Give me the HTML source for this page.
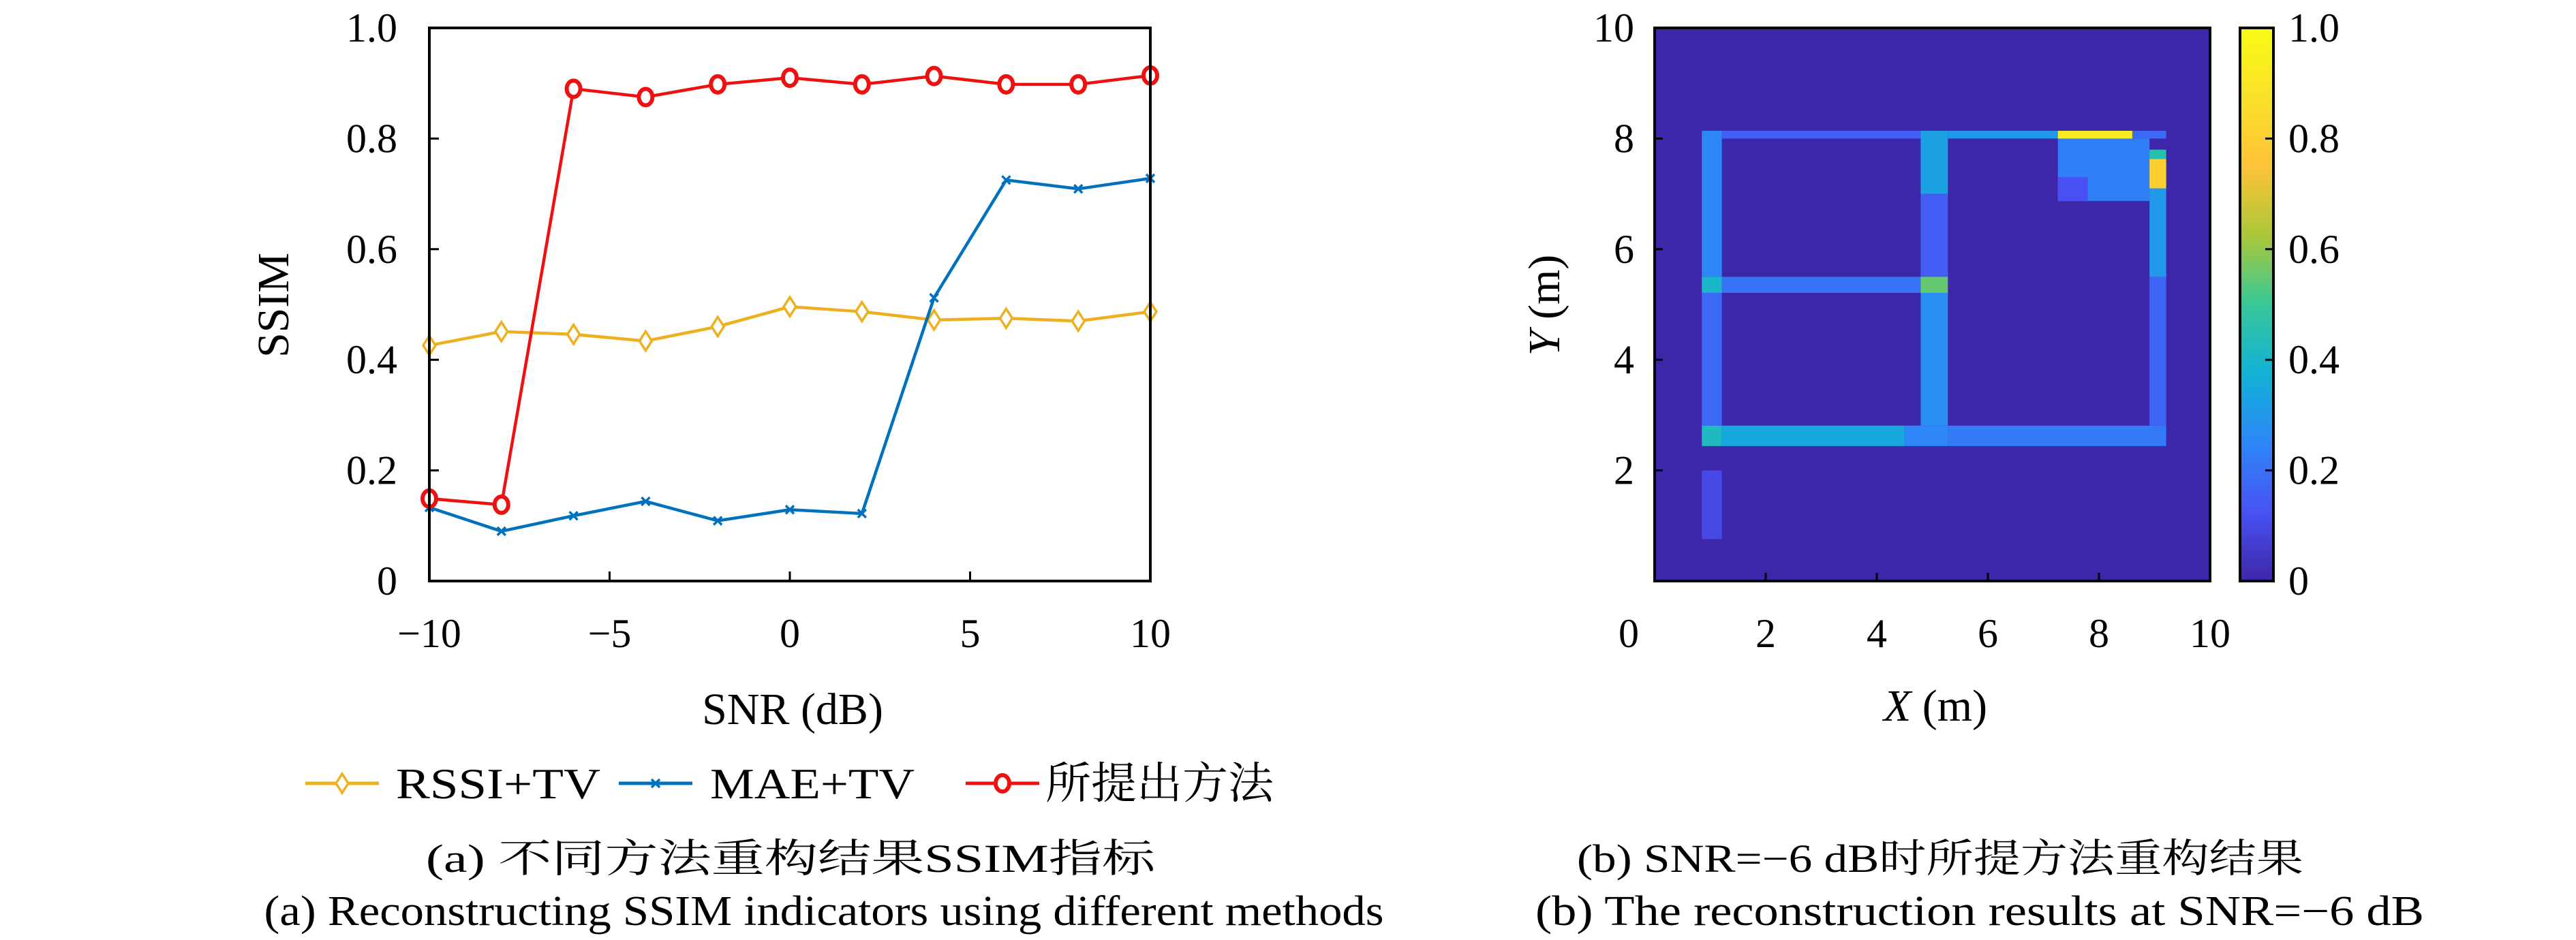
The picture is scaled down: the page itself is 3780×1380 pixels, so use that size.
<!DOCTYPE html>
<html><head><meta charset="utf-8"><style>
html,body{margin:0;padding:0;background:#fff;}
svg, svg text{font-family:"Liberation Serif","Noto Serif CJK SC",serif;}
svg{display:block;}
svg .cj{font-family:"Noto Serif CJK SC","Noto Sans CJK SC",serif;}
</style></head><body>
<svg id="fig" width="3780" height="1380" viewBox="0 0 3780 1380" xmlns="http://www.w3.org/2000/svg" font-family="Liberation Serif, serif">
<defs>
<linearGradient id="parula" x1="0" y1="1" x2="0" y2="0">
<stop offset="0" stop-color="#3e26a8"/><stop offset="0.125" stop-color="#4852f4"/>
<stop offset="0.25" stop-color="#2d87f7"/><stop offset="0.375" stop-color="#12b1d6"/>
<stop offset="0.5" stop-color="#37c897"/><stop offset="0.625" stop-color="#abc739"/>
<stop offset="0.75" stop-color="#fec338"/><stop offset="0.875" stop-color="#f9e129"/>
<stop offset="1" stop-color="#f9fb14"/>
</linearGradient>
</defs>
<g id="left"></g>
<g id="right"></g>
<text x="1160" y="1280" font-size="58" text-anchor="middle" textLength="1070" lengthAdjust="spacingAndGlyphs">(a) <tspan class="cj">不同方法重构结果</tspan>SSIM<tspan class="cj">指标</tspan></text>
<text x="1209" y="1358" font-size="62" text-anchor="middle" textLength="1643" lengthAdjust="spacingAndGlyphs">(a) Reconstructing SSIM indicators using different methods</text>
<text x="2847" y="1280" font-size="58" text-anchor="middle" textLength="1066" lengthAdjust="spacingAndGlyphs">(b) SNR=−6 dB<tspan class="cj">时所提方法重构结果</tspan></text>
<text x="2905" y="1358" font-size="62" text-anchor="middle" textLength="1304" lengthAdjust="spacingAndGlyphs">(b) The reconstruction results at SNR=−6 dB</text>
</svg>
<script>
const snr = [-10,-8,-6,-4,-2,0,2,4,6,8,10];
const rssiTV = [0.426,0.451,0.446,0.434,0.460,0.496,0.487,0.472,0.475,0.470,0.487];
const maeTV = [0.133,0.090,0.118,0.144,0.109,0.129,0.122,0.512,0.725,0.709,0.728];
const proposed = [0.149,0.138,0.890,0.875,0.898,0.910,0.898,0.913,0.898,0.898,0.914];
const xTicks = [-10,-5,0,5,10];
const xTickLabels = ["−10","−5","0","5","10"];
const yTicks = [0,0.2,0.4,0.6,0.8,1.0];
const yTickLabels = ["0","0.2","0.4","0.6","0.8","1.0"];
// heatmap regions: [x0,x1,y0,y1,value] in metres
const mapRegions = [
 [0.85,1.21,5.5,8.14,0.25],[0.85,1.21,2.81,5.21,0.18],
 [1.21,4.79,8.0,8.14,0.15],[4.79,5.28,7.0,8.14,0.33],[5.28,7.26,8.0,8.14,0.3],
 [4.79,5.28,5.5,7.0,0.15],[4.79,5.28,2.81,5.21,0.27],
 [0.85,1.21,5.21,5.5,0.4],[1.21,4.79,5.21,5.5,0.2],[4.79,5.28,5.21,5.5,0.55],
 [0.85,1.21,2.44,2.81,0.42],[1.21,4.5,2.44,2.81,0.35],[4.5,5.28,2.44,2.81,0.25],[5.28,9.21,2.44,2.81,0.22],
 [8.91,9.21,5.5,7.63,0.3],[8.91,9.21,2.81,5.5,0.17],
 [7.26,8.91,6.87,8.0,0.23],[7.26,7.8,6.87,7.3,0.12],[8.6,9.21,8.0,8.14,0.18],
 [8.91,9.21,7.63,7.8,0.45],[8.91,9.21,7.1,7.63,0.8],
 [7.26,8.6,8.0,8.14,0.93],
 [0.85,1.21,0.76,2.0,0.1]
];
const cbTicks = [0,0.2,0.4,0.6,0.8,1.0];
const cbTickLabels = ["0","0.2","0.4","0.6","0.8","1.0"];
const mapXTicks = [0,2,4,6,8,10];
const mapYTicks = [2,4,6,8,10];

const NS="http://www.w3.org/2000/svg";
function mk(parent,tag,attrs,txt){const e=document.createElementNS(NS,tag);for(const k in attrs)e.setAttribute(k,attrs[k]);if(txt!==undefined)e.textContent=txt;parent.appendChild(e);return e;}
function parula(v){const s=[[0,62,38,168],[0.125,72,82,244],[0.25,45,135,247],[0.375,18,177,214],[0.5,55,200,151],[0.625,171,199,57],[0.75,254,195,56],[0.875,249,225,41],[1,249,251,20]];
 for(let i=1;i<s.length;i++){if(v<=s[i][0]){const t=(v-s[i-1][0])/(s[i][0]-s[i-1][0]);const c=[1,2,3].map(j=>Math.round(s[i-1][j]+t*(s[i][j]-s[i-1][j])));return `rgb(${c})`;}}return "rgb(249,251,20)";}

const FS=60;
// left chart
const L=document.getElementById('left');
const lx0=630,lx1=1688,ly0=41,ly1=853;
const X=v=>lx0+(v+10)/20*(lx1-lx0);
const Y=v=>ly1-v*(ly1-ly0);
xTicks.forEach((t,i)=>{
 const tk=mk(L,'line',{x1:X(t),x2:X(t),y1:ly1,y2:ly1-14,stroke:'#000','stroke-width':3});
 
 
 const lb=mk(L,'text',{x:X(t),y:950,'font-size':FS,'text-anchor':'middle'},xTickLabels[i]);
 
 
});
yTicks.forEach((t,i)=>{
 const tk=mk(L,'line',{x1:lx0,x2:lx0+14,y1:Y(t),y2:Y(t),stroke:'#000','stroke-width':3});
 
 
 const lb=mk(L,'text',{x:583,y:Y(t)+20,'font-size':FS,'text-anchor':'end'},yTickLabels[i]);
 
 
});
function series(vals,color,marker,name){
 const g=mk(L,'g',{});
 
 
 mk(g,'polyline',{points:vals.map((v,i)=>X(snr[i])+','+Y(v)).join(' '),fill:'none',stroke:color,'stroke-width':4.5});
 vals.forEach((v,i)=>drawMarker(g,X(snr[i]),Y(v),color,marker));
}
function drawMarker(g,x,y,color,marker){
 let m;
 if(marker==='d') m=mk(g,'polygon',{points:`${x},${y-14} ${x+9},${y} ${x},${y+14} ${x-9},${y}`,fill:'#fff',stroke:color,'stroke-width':3.5});
 else if(marker==='x') m=mk(g,'path',{d:`M${x-6},${y-6}L${x+6},${y+6}M${x-6},${y+6}L${x+6},${y-6}`,stroke:color,'stroke-width':3.5});
 else m=mk(g,'ellipse',{cx:x,cy:y,rx:10,ry:12,fill:'#fff',stroke:color,'stroke-width':6});
 
 
}
series(rssiTV,'#edb120','d','series-rssi-tv');
series(maeTV,'#0072bd','x','series-mae-tv');
series(proposed,'#ee1111','o','series-proposed');
mk(L,'rect',{x:lx0,y:ly0,width:lx1-lx0,height:ly1-ly0,fill:'none',stroke:'#000','stroke-width':4});
const xt=mk(L,'text',{x:1163,y:1063,'font-size':66,'text-anchor':'middle'},'SNR (dB)');

const yt=mk(L,'text',{x:0,y:0,'font-size':66,'text-anchor':'middle',transform:'translate(423,448) rotate(-90)'},'SSIM');

// legend
const legend=[['#edb120','d','RSSI+TV',448,581,'legend-rssi-tv',300],['#0072bd','x','MAE+TV',908,1042,'legend-mae-tv',300],['#ee1111','o','所提出方法',1417,1534,'legend-proposed',335]];
legend.forEach(l=>{
 const g=mk(L,'g',{});
 
 
 mk(g,'line',{x1:l[3],x2:l[3]+108,y1:1150,y2:1150,stroke:l[0],'stroke-width':5});
 drawMarker(g,l[3]+54,1150,l[0],l[1]);
 const t=mk(g,'text',{x:l[4],y:1172,'font-size':64,textLength:l[6],lengthAdjust:'spacingAndGlyphs'},l[2]);
 if(l[1]==='o') t.setAttribute('class','cj');
});

// right chart
const R=document.getElementById('right');
const rx0=2428,rx1=3243,ry0=41,ry1=853;
const MX=v=>rx0+v/10*(rx1-rx0);
const MY=v=>ry1-v/10*(ry1-ry0);
const bg=mk(R,'rect',{x:rx0,y:ry0,width:rx1-rx0,height:ry1-ry0,fill:parula(0)});

mapRegions.forEach(r=>{
 const c=mk(R,'rect',{x:MX(r[0]),y:MY(r[3]),width:MX(r[1])-MX(r[0]),height:MY(r[2])-MY(r[3]),fill:parula(r[4])});
 
 
});
mk(R,'rect',{x:rx0,y:ry0,width:rx1-rx0,height:ry1-ry0,fill:'none',stroke:'#000','stroke-width':4});
mapXTicks.forEach(t=>{
 if(t>0&&t<10){const tk=mk(R,'line',{x1:MX(t),x2:MX(t),y1:ry1,y2:ry1-12,stroke:'#000','stroke-width':3});
 }
 const lb=mk(R,'text',{x:t===0?2390:MX(t),y:950,'font-size':FS,'text-anchor':'middle'},String(t));
 
});
mapYTicks.forEach(t=>{
 if(t<10){const tk=mk(R,'line',{x1:rx0,x2:rx0+12,y1:MY(t),y2:MY(t),stroke:'#000','stroke-width':3});
 }
 const lb=mk(R,'text',{x:2398,y:MY(t)+20,'font-size':FS,'text-anchor':'end'},String(t));
 
});
const mxt=mk(R,'text',{x:2840,y:1058,'font-size':66,'text-anchor':'middle'});
mxt.innerHTML='<tspan font-style="italic">X</tspan> (m)';

const myt=mk(R,'text',{x:0,y:0,'font-size':66,'text-anchor':'middle',transform:'translate(2288,448) rotate(-90)'});
myt.innerHTML='<tspan font-style="italic">Y</tspan> (m)';

// colorbar
const cbx0=3287,cbx1=3336;
const CY=v=>ry1-v*(ry1-ry0);
const cb=mk(R,'rect',{x:cbx0,y:ry0,width:cbx1-cbx0,height:ry1-ry0,fill:'url(#parula)',stroke:'#000','stroke-width':4});

cbTicks.forEach((t,i)=>{
 if(t>0&&t<1){const tk=mk(R,'line',{x1:cbx1-12,x2:cbx1,y1:CY(t),y2:CY(t),stroke:'#000','stroke-width':3});
 }
 const lb=mk(R,'text',{x:3358,y:CY(t)+20,'font-size':FS},cbTickLabels[i]);
 
});
</script>
</body></html>
